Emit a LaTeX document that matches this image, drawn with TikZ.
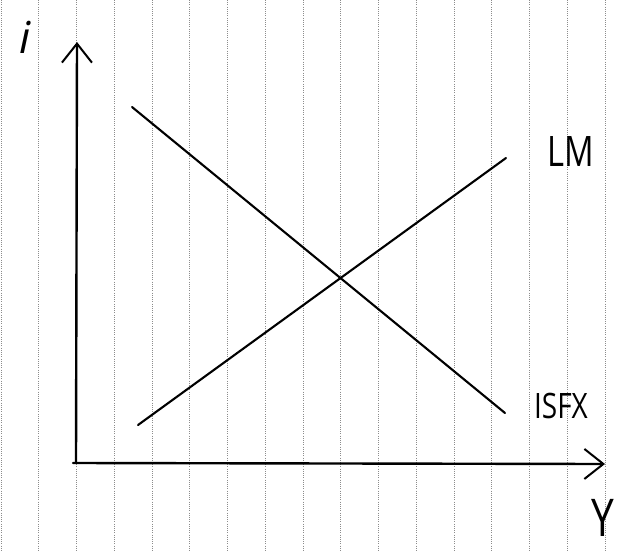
\documentclass[tikz,border=0pt]{standalone}
\usepackage{fontspec}
\setmainfont{Open Sans}
\usetikzlibrary{arrows.meta, positioning}

\begin{document}
\begin{tikzpicture}[
  x=1pt, y=-1pt,
  %--- shared styles ------------------------------------------------
  ruling/.style={draw=black!45, line width=0.7pt,
    dash pattern=on 1pt off 1.2pt},
  axis/.style={line width=2.4pt, line cap=round, color=black,
    -{Straight Barb[length=19pt, width=30pt, line width=2pt]}},
  curve/.style={line width=2.1pt, line cap=round, color=black},
  lbl/.style={inner sep=0pt, font=\fontsize{34}{34}\selectfont},
]
\useasboundingbox (0,0) rectangle (627,552);

%% --- ruled paper: vertical dotted lines --------------------------
\foreach \k in {0,...,16}
  \draw[ruling] ({1+37.75*\k},0) -- ({1+37.75*\k},552);

%% --- corner points -------------------------------------------------
\coordinate (O)    at (76,463);
\coordinate (itop) at (77,42);
\coordinate (yend) at (605,464);
\coordinate (is1)  at (132,107);
\coordinate (is2)  at (505,413);
\coordinate (lm1)  at (138,425);
\coordinate (lm2)  at (506,158);

%% --- axes -----------------------------------------------------------
\draw[axis] (O) -- (itop);
\draw[axis] ([xshift=-3pt]O) -- (yend);

%% --- IS / LM curves -------------------------------------------------
\draw[curve] (is1) -- (is2);
\draw[curve] (lm1) -- (lm2);

%% --- labels ---------------------------------------------------------
\node[lbl, font=\fontsize{44}{44}\selectfont\itshape] (ilbl) at (25,37) {i};
\node[lbl, font=\fontsize{42}{42}\selectfont, xscale=0.78] (lmlbl) at (571,152) {LM};
\node[lbl, font=\fontsize{35}{35}\selectfont, xscale=0.8] (islbl) at (561,406) {ISFX};
\node[lbl, font=\fontsize{52}{52}\selectfont, xscale=0.78] (ylbl) at (603,518) {Y};

\end{tikzpicture}
\end{document}
